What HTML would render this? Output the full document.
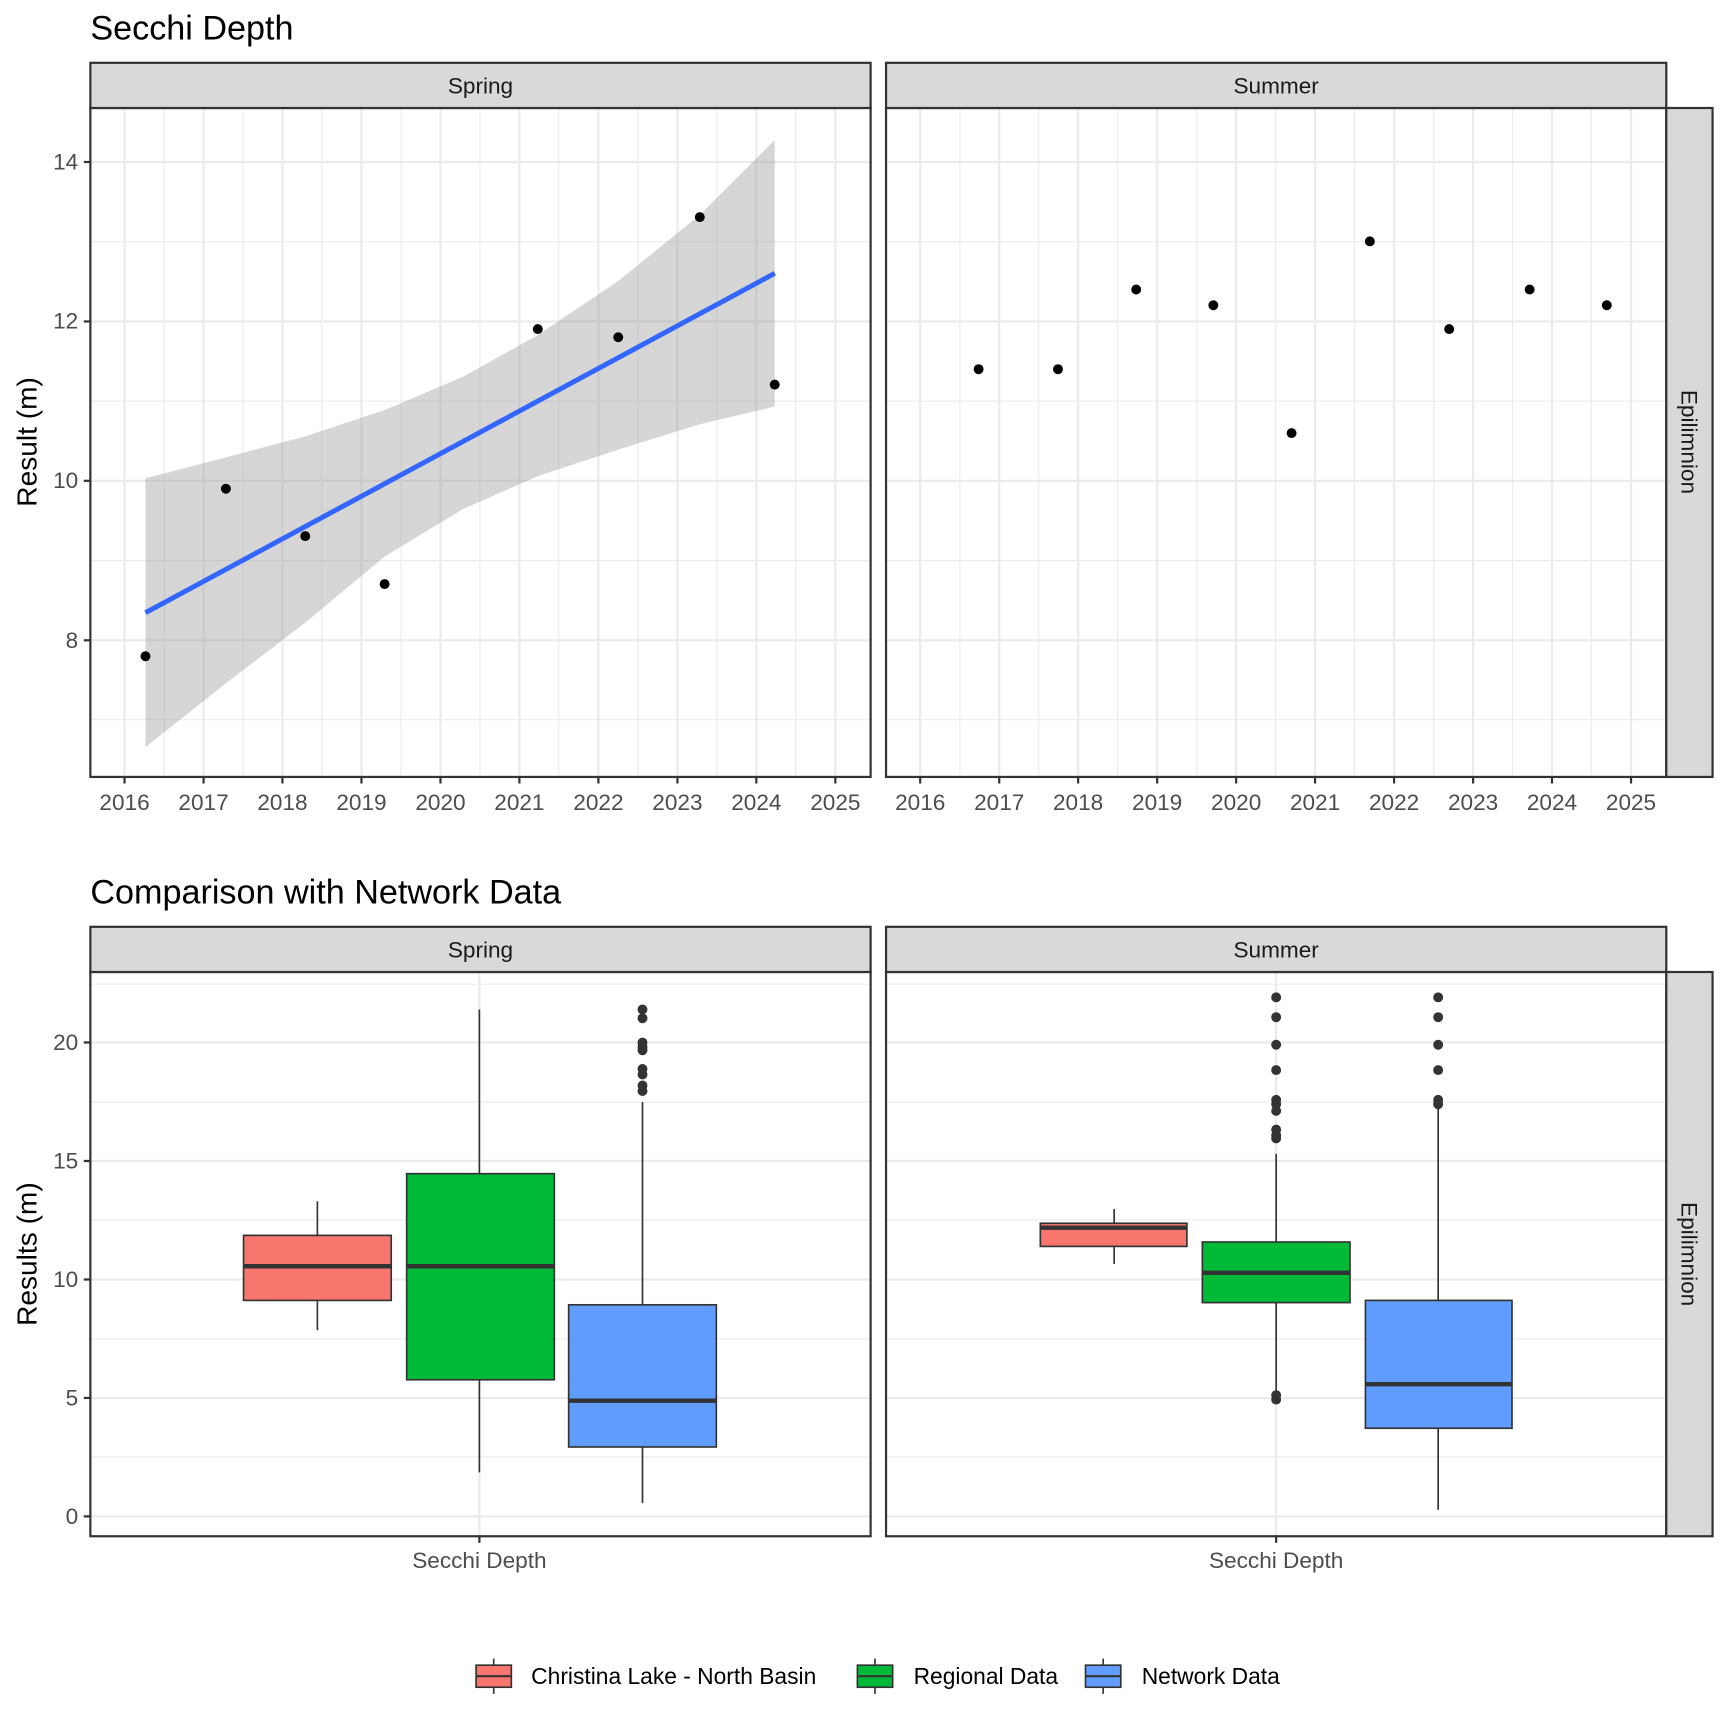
<!DOCTYPE html>
<html><head><meta charset="utf-8"><style>html,body{margin:0;padding:0;background:#fff}svg{display:block}text{font-family:"Liberation Sans",Arial,sans-serif}</style></head><body>
<svg width="1728" height="1728" viewBox="0 0 1568 1568" xmlns="http://www.w3.org/2000/svg">
<rect width="1568" height="1568" fill="#fff"/>
<text x="82" y="36" font-size="31">Secchi Depth</text>
<g stroke="#ebebeb" stroke-width="1">
<line x1="82" x2="790" y1="653" y2="653"/><line x1="82" x2="790" y1="508.7" y2="508.7"/><line x1="82" x2="790" y1="364" y2="364"/><line x1="82" x2="790" y1="219.3" y2="219.3"/>
<line x1="804" x2="1512" y1="653" y2="653"/><line x1="804" x2="1512" y1="508.7" y2="508.7"/><line x1="804" x2="1512" y1="364" y2="364"/><line x1="804" x2="1512" y1="219.3" y2="219.3"/>
<line y1="98" y2="705" x1="149" x2="149"/><line y1="98" y2="705" x1="220.5" x2="220.5"/><line y1="98" y2="705" x1="292" x2="292"/><line y1="98" y2="705" x1="364" x2="364"/><line y1="98" y2="705" x1="435.5" x2="435.5"/><line y1="98" y2="705" x1="507" x2="507"/><line y1="98" y2="705" x1="579" x2="579"/><line y1="98" y2="705" x1="650.5" x2="650.5"/><line y1="98" y2="705" x1="722" x2="722"/>
<line y1="98" y2="705" x1="871" x2="871"/><line y1="98" y2="705" x1="942.5" x2="942.5"/><line y1="98" y2="705" x1="1014" x2="1014"/><line y1="98" y2="705" x1="1086" x2="1086"/><line y1="98" y2="705" x1="1157.5" x2="1157.5"/><line y1="98" y2="705" x1="1229" x2="1229"/><line y1="98" y2="705" x1="1301" x2="1301"/><line y1="98" y2="705" x1="1372.5" x2="1372.5"/><line y1="98" y2="705" x1="1444" x2="1444"/>
</g>
<g stroke="#ebebeb" stroke-width="2">
<line x1="82" x2="790" y1="581" y2="581"/><line x1="82" x2="790" y1="436.3" y2="436.3"/><line x1="82" x2="790" y1="291.7" y2="291.7"/><line x1="82" x2="790" y1="147" y2="147"/>
<line x1="804" x2="1512" y1="581" y2="581"/><line x1="804" x2="1512" y1="436.3" y2="436.3"/><line x1="804" x2="1512" y1="291.7" y2="291.7"/><line x1="804" x2="1512" y1="147" y2="147"/>
<line y1="98" y2="705" x1="113" x2="113"/><line y1="98" y2="705" x1="184.7" x2="184.7"/><line y1="98" y2="705" x1="256.3" x2="256.3"/><line y1="98" y2="705" x1="328" x2="328"/><line y1="98" y2="705" x1="399.7" x2="399.7"/><line y1="98" y2="705" x1="471.3" x2="471.3"/><line y1="98" y2="705" x1="543" x2="543"/><line y1="98" y2="705" x1="614.7" x2="614.7"/><line y1="98" y2="705" x1="686.3" x2="686.3"/><line y1="98" y2="705" x1="758" x2="758"/>
<line y1="98" y2="705" x1="835" x2="835"/><line y1="98" y2="705" x1="906.7" x2="906.7"/><line y1="98" y2="705" x1="978.3" x2="978.3"/><line y1="98" y2="705" x1="1050" x2="1050"/><line y1="98" y2="705" x1="1121.7" x2="1121.7"/><line y1="98" y2="705" x1="1193.3" x2="1193.3"/><line y1="98" y2="705" x1="1265" x2="1265"/><line y1="98" y2="705" x1="1336.7" x2="1336.7"/><line y1="98" y2="705" x1="1408.3" x2="1408.3"/><line y1="98" y2="705" x1="1480" x2="1480"/>
</g>
<polygon fill="#999" fill-opacity="0.4" points="132,434 205,415 277,396 349,372 420,342 488,304 561,255 635,195 703,127 703,369 635,385 561,408 488,432 420,462 349,505 277,565 205,620 132,678"/>
<line x1="132" y1="556" x2="703" y2="248" stroke="#3366FF" stroke-width="4.5"/>
<g fill="#000">
<circle cx="132" cy="595.5" r="4.5"/><circle cx="205" cy="443.5" r="4.5"/><circle cx="277" cy="486.5" r="4.5"/><circle cx="349" cy="530" r="4.5"/><circle cx="488" cy="298.6" r="4.5"/><circle cx="561" cy="306" r="4.5"/><circle cx="635" cy="197" r="4.5"/><circle cx="703" cy="349" r="4.5"/>
<circle cx="888" cy="335" r="4.5"/><circle cx="960" cy="335" r="4.5"/><circle cx="1031" cy="262.7" r="4.5"/><circle cx="1101" cy="277" r="4.5"/><circle cx="1172" cy="393" r="4.5"/><circle cx="1243" cy="219" r="4.5"/><circle cx="1315" cy="298.6" r="4.5"/><circle cx="1388" cy="262.7" r="4.5"/><circle cx="1458" cy="277" r="4.5"/>
</g>
<g fill="none" stroke="#333" stroke-width="2">
<rect x="82" y="98" width="708" height="607"/><rect x="804" y="98" width="708" height="607"/>
</g>
<g fill="#d9d9d9" stroke="#333" stroke-width="2">
<rect x="82" y="57" width="708" height="41"/><rect x="804" y="57" width="708" height="41"/><rect x="1512" y="98" width="42" height="607"/>
</g>
<g font-size="20.5" fill="#1a1a1a" text-anchor="middle">
<text x="436" y="85">Spring</text><text x="1158" y="85">Summer</text>
<text transform="translate(1526,401) rotate(90)">Epilimnion</text>
</g>
<g stroke="#333" stroke-width="2">
<line x1="76" x2="82" y1="581" y2="581"/><line x1="76" x2="82" y1="436.3" y2="436.3"/><line x1="76" x2="82" y1="291.7" y2="291.7"/><line x1="76" x2="82" y1="147" y2="147"/>
</g>
<g font-size="20.5" fill="#4d4d4d" text-anchor="end">
<text x="71" y="588">8</text><text x="71" y="443">10</text><text x="71" y="298">12</text><text x="71" y="154">14</text>
</g>
<g stroke="#333" stroke-width="2">
<path d="M113 705v6M184.7 705v6M256.3 705v6M328 705v6M399.7 705v6M471.3 705v6M543 705v6M614.7 705v6M686.3 705v6M758 705v6M835 705v6M906.7 705v6M978.3 705v6M1050 705v6M1121.7 705v6M1193.3 705v6M1265 705v6M1336.7 705v6M1408.3 705v6M1480 705v6"/>
</g>
<g font-size="20.5" fill="#4d4d4d" text-anchor="middle">
<text x="113" y="735">2016</text><text x="184.7" y="735">2017</text><text x="256.3" y="735">2018</text><text x="328" y="735">2019</text><text x="399.7" y="735">2020</text><text x="471.3" y="735">2021</text><text x="543" y="735">2022</text><text x="614.7" y="735">2023</text><text x="686.3" y="735">2024</text><text x="758" y="735">2025</text>
<text x="835" y="735">2016</text><text x="906.7" y="735">2017</text><text x="978.3" y="735">2018</text><text x="1050" y="735">2019</text><text x="1121.7" y="735">2020</text><text x="1193.3" y="735">2021</text><text x="1265" y="735">2022</text><text x="1336.7" y="735">2023</text><text x="1408.3" y="735">2024</text><text x="1480" y="735">2025</text>
</g>
<text transform="translate(33,401) rotate(-90)" font-size="25.5" text-anchor="middle">Result (m)</text>

<text x="82" y="820" font-size="31">Comparison with Network Data</text>
<g stroke="#ebebeb" stroke-width="1">
<path d="M82 1322H790M82 1215H790M82 1107H790M82 1000H790M82 893H790M804 1322H1512M804 1215H1512M804 1107H1512M804 1000H1512M804 893H1512"/>
</g>
<g stroke="#ebebeb" stroke-width="2">
<path d="M82 1376H790M82 1268.5H790M82 1161H790M82 1053.5H790M82 946H790M804 1376H1512M804 1268.5H1512M804 1161H1512M804 1053.5H1512M804 946H1512M435 882V1394M1158 882V1394"/>
</g>
<g stroke="#333" stroke-width="1.5">
<path d="M288 1090V1207M435 916V1336M583 1000V1364M1011 1097V1147M1158 1047V1262M1305 995V1370"/>
</g>
<g stroke="#333" stroke-width="1.5">
<rect x="221" y="1121" width="134" height="59" fill="#F8766D"/>
<rect x="369" y="1065" width="134" height="187" fill="#00BA38"/>
<rect x="516" y="1184" width="134" height="129" fill="#619CFF"/>
<rect x="944" y="1110" width="133" height="21" fill="#F8766D"/>
<rect x="1091" y="1127" width="134" height="55" fill="#00BA38"/>
<rect x="1239" y="1180" width="133" height="116" fill="#619CFF"/>
</g>
<g stroke="#333" stroke-width="4">
<path d="M221 1149H355M369 1149H503M516 1271H650M944 1114H1077M1091 1155H1225M1239 1256H1372"/>
</g>
<g fill="#333">
<circle cx="583" cy="916" r="4.5"/><circle cx="583" cy="924" r="4.5"/><circle cx="583" cy="946" r="4.5"/><circle cx="583" cy="950" r="4.5"/><circle cx="583" cy="953" r="4.5"/><circle cx="583" cy="970" r="4.5"/><circle cx="583" cy="975" r="4.5"/><circle cx="583" cy="985" r="4.5"/><circle cx="583" cy="990" r="4.5"/>
<circle cx="1158" cy="905" r="4.5"/><circle cx="1158" cy="923" r="4.5"/><circle cx="1158" cy="948" r="4.5"/><circle cx="1158" cy="971" r="4.5"/><circle cx="1158" cy="998" r="4.5"/><circle cx="1158" cy="1002" r="4.5"/><circle cx="1158" cy="1008" r="4.5"/><circle cx="1158" cy="1025" r="4.5"/><circle cx="1158" cy="1030" r="4.5"/><circle cx="1158" cy="1033" r="4.5"/><circle cx="1158" cy="1266" r="4.5"/><circle cx="1158" cy="1270" r="4.5"/>
<circle cx="1305" cy="905" r="4.5"/><circle cx="1305" cy="923" r="4.5"/><circle cx="1305" cy="948" r="4.5"/><circle cx="1305" cy="971" r="4.5"/><circle cx="1305" cy="998" r="4.5"/><circle cx="1305" cy="1002" r="4.5"/>
</g>
<g fill="none" stroke="#333" stroke-width="2">
<rect x="82" y="882" width="708" height="512"/><rect x="804" y="882" width="708" height="512"/>
</g>
<g fill="#d9d9d9" stroke="#333" stroke-width="2">
<rect x="82" y="841" width="708" height="41"/><rect x="804" y="841" width="708" height="41"/><rect x="1512" y="882" width="42" height="512"/>
</g>
<g font-size="20.5" fill="#1a1a1a" text-anchor="middle">
<text x="436" y="869">Spring</text><text x="1158" y="869">Summer</text>
<text transform="translate(1526,1138) rotate(90)">Epilimnion</text>
</g>
<g stroke="#333" stroke-width="2">
<path d="M76 1376H82M76 1268.5H82M76 1161H82M76 1053.5H82M76 946H82M435 1394v6M1158 1394v6"/>
</g>
<g font-size="20.5" fill="#4d4d4d" text-anchor="end">
<text x="71" y="1383">0</text><text x="71" y="1275.5">5</text><text x="71" y="1168">10</text><text x="71" y="1060.5">15</text><text x="71" y="953">20</text>
</g>
<g font-size="20.5" fill="#4d4d4d" text-anchor="middle">
<text x="435" y="1423">Secchi Depth</text><text x="1158" y="1423">Secchi Depth</text>
</g>
<text transform="translate(33,1138) rotate(-90)" font-size="25.5" text-anchor="middle">Results (m)</text>

<g stroke="#333" stroke-width="1.5">
<path d="M448 1505V1537M794 1505V1537M1001 1505V1537"/>
<rect x="432" y="1511" width="32" height="20" fill="#F8766D"/>
<rect x="778" y="1511" width="32" height="20" fill="#00BA38"/>
<rect x="985" y="1511" width="32" height="20" fill="#619CFF"/>
<path d="M432 1521H464M778 1521H810M985 1521H1017" stroke-width="2"/>
</g>
<g font-size="20.7" fill="#000">
<text x="482" y="1528">Christina Lake - North Basin</text>
<text x="829" y="1528">Regional Data</text>
<text x="1036" y="1528">Network Data</text>
</g>
</svg>
</body></html>
